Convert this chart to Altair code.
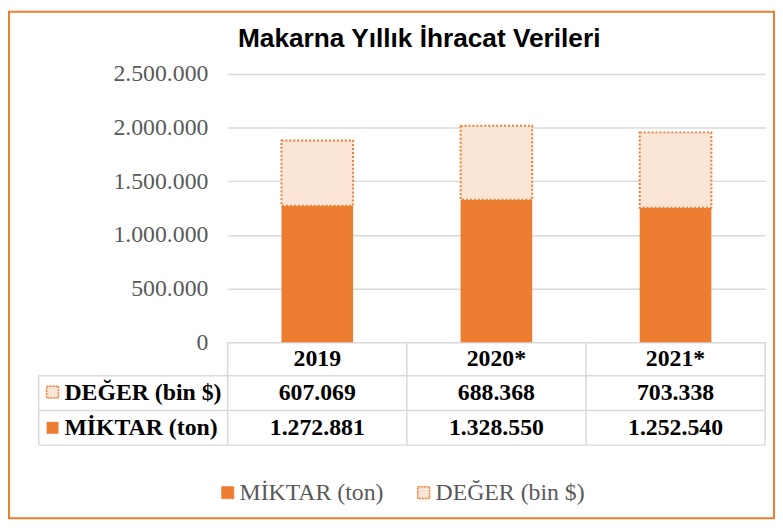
import altair as alt
import pandas as pd

# ---- data ----
years = ["2019", "2020*", "2021*"]
miktar = [1272881, 1328550, 1252540]      # MİKTAR (ton)
deger = [607069, 688368, 703338]          # DEĞER (bin $)
series = ["MİKTAR (ton)", "DEĞER (bin $)"]
y_ticks = [0, 500000, 1000000, 1500000, 2000000, 2500000]
title_text = "Makarna Yıllık İhracat Verileri"

# ---- styles ----
ORANGE = "#ED7D31"
PEACH = "#FBE5D6"
GRID = "#D9D9D9"
GRAY = "#595959"
SERIF = "Liberation Serif"
FS = 24
W, H = 543, 271
PL, PT, PR, PB = 222, 64, 10, 179

df = pd.DataFrame({"year": years, "miktar": miktar, "deger": deger})
one = pd.DataFrame({"k": [0]})

xscale = alt.Scale(domain=years, paddingInner=0, paddingOuter=0)
xenc = alt.X("year:N", sort=years, axis=None, scale=xscale)
color_scale = alt.Scale(domain=series, range=[ORANGE, PEACH])
legend = alt.Legend(
    orient="none", legendX=-12, legendY=411, direction="horizontal", title=None,
    symbolType="square", symbolSize=144, symbolStrokeColor=ORANGE,
    symbolStrokeWidth=1.5, symbolDash=[2, 1], symbolOpacity=1,
    labelFont=SERIF, labelFontSize=FS, labelColor=GRAY, labelOffset=0,
    columnPadding=28, padding=0, labelLimit=300,
)

base = alt.Chart(df)

# outer border
border = alt.Chart(one).mark_rect(fillOpacity=0, stroke=ORANGE, strokeWidth=2).encode(
    x=alt.value(-(PL - 1)), x2=alt.value(W + PR - 1),
    y=alt.value(-(PT - 1)), y2=alt.value(H + PB - 1)
)

# table lines
vlines = base.mark_rule(color=GRID, strokeWidth=1.5).encode(
    x=alt.X("year:N", sort=years, axis=None, scale=xscale, bandPosition=0),
    y=alt.value(H), y2=alt.value(375),
)
def rule(x1, x2, y1, y2):
    return alt.Chart(one).mark_rule(color=GRID, strokeWidth=1.5).encode(
        x=alt.value(x1), x2=alt.value(x2), y=alt.value(y1), y2=alt.value(y2)
    )
table_lines = [
    rule(W, W, H, 375),
    rule(-191, -191, 305, 375),
    rule(-191, W, 305, 305),
    rule(-191, W, 340, 340),
    rule(-191, W, 375, 375),
]

bars_m = base.transform_calculate(s=f"'{series[0]}'").mark_bar(
    width=alt.RelativeBandSize(0.4)
).encode(
    x=xenc,
    y=alt.Y("miktar:Q", title=None,
            scale=alt.Scale(domain=[0, 2500000], nice=False),
            axis=alt.Axis(values=y_ticks, format=",.0f")),
    color=alt.Color("s:N", scale=color_scale, legend=legend),
)
bars_d = base.transform_calculate(
    s=f"'{series[1]}'", total="datum.miktar + datum.deger"
).mark_bar(
    width=alt.RelativeBandSize(0.4), stroke=ORANGE, strokeWidth=2, strokeDash=[2, 2]
).encode(
    x=xenc,
    y=alt.Y("miktar:Q"),
    y2="total:Q",
    color=alt.Color("s:N", scale=color_scale, legend=legend),
)

txt = dict(font=SERIF, fontSize=FS, fontWeight="bold", color="black", baseline="middle")
t_year = base.mark_text(**txt).encode(x=xenc, y=alt.value(288), text="year:N")
t_deger = base.mark_text(**txt).encode(x=xenc, y=alt.value(322.5), text=alt.Text("deger:Q", format=",.0f"))
t_miktar = base.mark_text(**txt).encode(x=xenc, y=alt.value(357.5), text=alt.Text("miktar:Q", format=",.0f"))

lab_d = alt.Chart(pd.DataFrame({"t": [series[1]]})).mark_text(align="left", **txt).encode(
    x=alt.value(-165), y=alt.value(322.5), text="t:N")
lab_m = alt.Chart(pd.DataFrame({"t": [series[0]]})).mark_text(align="left", **txt).encode(
    x=alt.value(-165), y=alt.value(357.5), text="t:N")
icon_d = alt.Chart(one).mark_square(size=144, fill=PEACH, stroke=ORANGE, strokeWidth=1.5,
                                    strokeDash=[2, 1], opacity=1).encode(
    x=alt.value(-177), y=alt.value(321.5))
icon_m = alt.Chart(one).mark_square(size=144, fill=ORANGE, opacity=1).encode(
    x=alt.value(-177), y=alt.value(357.5))

title = alt.Chart(pd.DataFrame({"t": [title_text]})).mark_text(
    font="Liberation Sans", fontSize=26.5, fontWeight="bold", color="black",
    baseline="alphabetic", align="center"
).encode(x=alt.value(193.5), y=alt.value(-27), text="t:N")

chart = alt.layer(
    border, vlines, *table_lines, bars_m, bars_d,
    t_year, t_deger, t_miktar, lab_d, lab_m, icon_d, icon_m, title,
).properties(
    width=W, height=H,
    padding={"left": PL, "top": PT, "right": PR, "bottom": PB},
    autosize=alt.AutoSizeParams(type="none"),
).configure(
    locale={"number": {"decimal": ",", "thousands": ".", "grouping": [3], "currency": ["", ""]}}
).configure_view(stroke=None).configure_axisY(
    grid=True, gridColor=GRID, gridWidth=1.5, domain=False, ticks=False,
    labelPadding=20, labelFont=SERIF, labelFontSize=FS, labelColor=GRAY,
)

chart.save("out.html", embed_options={"renderer": "svg", "actions": False})
